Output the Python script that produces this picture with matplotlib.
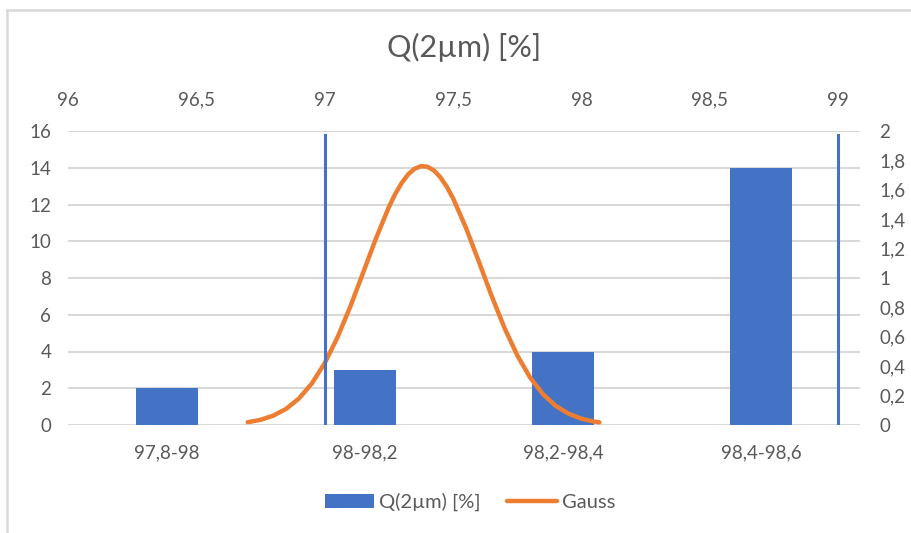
import matplotlib
matplotlib.use('Agg')
import matplotlib.pyplot as plt
from matplotlib.lines import Line2D
from matplotlib.patches import Patch
from matplotlib.ticker import FuncFormatter

plt.rcParams['font.family'] = ['Lato', 'DejaVu Sans']

# histogram data
categories = ['97,8-98', '98-98,2', '98,2-98,4', '98,4-98,6']
counts = [2, 3, 4, 14]

# gauss curve (top axis / right axis)
gauss_x = [96.70, 96.75, 96.80, 96.85, 96.90, 96.95, 97.00, 97.05, 97.10, 97.15,
           97.20, 97.25, 97.275, 97.30, 97.325, 97.35, 97.375, 97.40, 97.425, 97.45,
           97.475, 97.50, 97.55, 97.60, 97.65, 97.70, 97.75, 97.80, 97.85, 97.90,
           97.95, 98.00, 98.05, 98.07]
gauss_y = [0.019, 0.035, 0.064, 0.110, 0.181, 0.283, 0.421, 0.597, 0.807, 1.038,
           1.271, 1.483, 1.573, 1.647, 1.705, 1.743, 1.761, 1.757, 1.732, 1.686,
           1.622, 1.542, 1.342, 1.113, 0.879, 0.661, 0.474, 0.323, 0.210, 0.130,
           0.077, 0.043, 0.023, 0.018]

# spec limits (vertical lines)
limits = [97, 99]
limit_top = 1.97

left_ticks = list(range(0, 17, 2))
right_ticks = [0, 0.2, 0.4, 0.6, 0.8, 1, 1.2, 1.4, 1.6, 1.8, 2]
top_ticks = [96, 96.5, 97, 97.5, 98, 98.5, 99]

blue = '#4472C4'
orange = '#ED7D31'
grid = '#D9D9D9'
txt = '#595959'

def comma(v, pos=None):
    s = ('%g' % round(v, 3))
    return s.replace('.', ',')

fig = plt.figure(figsize=(9.12, 5.33), dpi=100)
pos = [68/912, 1-425/533, (860-68)/912, (425-131)/533]

ax = fig.add_axes(pos)
ax.bar(range(len(categories)), counts, width=0.31, color=blue, zorder=3)
ax.set_xlim(-0.5, len(categories)-0.5)
ax.set_ylim(0, 16)
ax.set_yticks(left_ticks)
ax.set_xticks(range(len(categories)))
ax.set_xticklabels(categories)
ax.yaxis.grid(True, color=grid, lw=1.5, zorder=0)
ax.set_axisbelow(True)
for s in ax.spines.values():
    s.set_visible(False)
ax.tick_params(length=0, labelsize=13.5, labelcolor=txt)
ax.tick_params(axis='x', pad=14)
ax.tick_params(axis='y', pad=12)

axg = fig.add_axes(pos, facecolor='none')
axg.set_xlim(96.0, 99.085)
axg.set_ylim(0, 2)
axg.plot(gauss_x, gauss_y, color=orange, lw=3.2, solid_capstyle='round',
         solid_joinstyle='round', zorder=4)
for x in limits:
    axg.plot([x, x], [0, limit_top], color=blue, lw=2.2, zorder=4)
axg.xaxis.tick_top()
axg.yaxis.tick_right()
axg.set_xticks(top_ticks)
axg.set_yticks(right_ticks)
axg.xaxis.set_major_formatter(FuncFormatter(comma))
axg.yaxis.set_major_formatter(FuncFormatter(comma))
for s in axg.spines.values():
    s.set_visible(False)
axg.tick_params(length=0, labelsize=13.5, labelcolor=txt)
axg.tick_params(axis='x', pad=16)
axg.tick_params(axis='y', pad=14)
for lab in axg.get_yticklabels():
    lab.set_horizontalalignment('left')

fig.text(464/912, 1-47/533, 'Q(2µm) [%]', ha='center', va='center', fontsize=22, color=txt)

handles = [Patch(facecolor=blue, edgecolor='none'),
           Line2D([0], [0], color=orange, lw=3.2, solid_capstyle='round')]
fig.legend(handles, ['Q(2µm) [%]', 'Gauss'], loc='center', bbox_to_anchor=(470/912, 1-502/533),
           ncol=2, frameon=False, fontsize=14.5, labelcolor=txt, handlelength=2.45,
           handleheight=0.65, columnspacing=1.3, handletextpad=0.25)

# chart border (cropped on right / bottom)
fig.add_artist(Line2D([7.5/912, 7.5/912], [0, 1-10/533], color='#D9D9D9', lw=1.8))
fig.add_artist(Line2D([7.5/912, 1], [1-10/533, 1-10/533], color='#D9D9D9', lw=1.8))

fig.savefig('out.png', dpi=100)
